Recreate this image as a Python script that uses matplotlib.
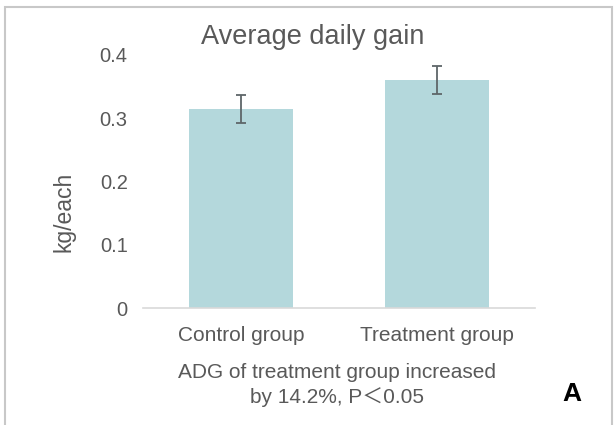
import matplotlib
matplotlib.use("Agg")
import matplotlib.pyplot as plt
from matplotlib.patches import Rectangle

plt.rcParams['font.family'] = ['Liberation Sans', 'Noto Sans CJK SC', 'DejaVu Sans']

groups = ["Control group", "Treatment group"]
adg = [0.315, 0.36]
adg_err = [0.022, 0.022]
yticks = [0, 0.1, 0.2, 0.3, 0.4]
ytick_labels = ["0", "0.1", "0.2", "0.3", "0.4"]

text_col = "#595959"
bar_col = "#b4d8dc"

fig = plt.figure(figsize=(6.14, 4.25), dpi=100)
ax = fig.add_axes([143 / 614, 117 / 425, 392 / 614, 253 / 425])

ax.bar(range(len(groups)), adg, width=0.53, color=bar_col, zorder=2)
ax.errorbar(range(len(groups)), adg, yerr=adg_err, fmt="none",
            ecolor="#5e6669", elinewidth=1.3, capsize=3.4, capthick=1.3, zorder=3)

ax.set_xlim(-0.5, 1.5)
ax.set_ylim(0, 0.4)
ax.set_yticks(yticks)
ax.set_yticklabels(ytick_labels)
ax.set_xticks(range(len(groups)))
ax.set_xticklabels(groups)
ax.tick_params(axis="y", length=0, pad=11, labelsize=14.5, labelcolor=text_col)
ax.tick_params(axis="x", length=0, pad=13, labelsize=15, labelcolor=text_col)
for side in ["top", "right", "left"]:
    ax.spines[side].set_visible(False)
ax.spines["bottom"].set_color("#d9d9d9")
ax.spines["bottom"].set_linewidth(1.2)

fig.text(313 / 614, 1 - 37 / 425, "Average daily gain", ha="center", va="center",
         fontsize=19.5, color=text_col)
fig.text(64 / 614, 1 - 212 / 425, "kg/each", rotation=90, ha="center", va="center",
         fontsize=16.5, color=text_col)
fig.text(337 / 614, 1 - 385 / 425, "ADG of treatment group increased\nby 14.2%, P\uff1c0.05",
         ha="center", va="center", fontsize=15, color=text_col, linespacing=1.3)
fig.text(572 / 614, 1 - 394 / 425, "A", ha="center", va="center",
         fontsize=19, fontweight="bold", color="black")

# outer panel frame (runs off the right/bottom edge)
fig.patches.append(Rectangle((5 / 614, -0.1), 607 / 614, 1.1 - 7 / 425,
                             transform=fig.transFigure, fill=False,
                             edgecolor="#c8c8c8", linewidth=1.5))

fig.savefig("out.png", dpi=100)
